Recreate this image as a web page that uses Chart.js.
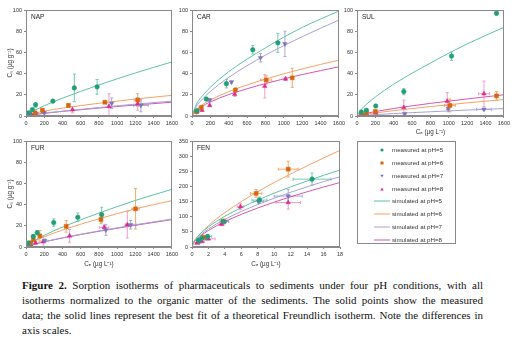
<!DOCTYPE html>
<html>
<head>
<meta charset="utf-8">
<script src="https://cdn.jsdelivr.net/npm/chart.js@4.4.0/dist/chart.umd.min.js"></script>
<style>
  body { margin: 0; background: #fff; width: 513px; height: 340px; position: relative; overflow: hidden; font-family: "Liberation Sans", Arial, sans-serif; }
  canvas { position: absolute; }
  #legend { position: absolute; left: 357px; top: 141px; width: 99px; height: 103px; border: 1px solid #888; box-sizing: border-box; font-size: 6.2px; color: #333; }
  #legend .row { position: absolute; left: 0; height: 8px; width: 98px; }
  #legend .mk { position: absolute; left: 16px; top: 0; width: 16px; height: 8px; }
  #legend .tx { position: absolute; left: 34px; top: 0; line-height: 8px; white-space: nowrap; }
  #caption { position: absolute; left: 22px; top: 278px; width: 461px; font-family: "Liberation Serif", "Times New Roman", serif; font-size: 11px; line-height: 15px; color: #111; }
  #caption .l { text-align: justify; text-align-last: justify; }
</style>
</head>
<body>
<canvas id="nap" width="180" height="138" style="left:0;top:0"></canvas>
<canvas id="car" width="172" height="138" style="left:175px;top:0"></canvas>
<canvas id="sul" width="172" height="138" style="left:340px;top:0"></canvas>
<canvas id="fur" width="180" height="139" style="left:0;top:131px"></canvas>
<canvas id="fen" width="172" height="139" style="left:175px;top:131px"></canvas>
<div id="legend"></div>
<div id="caption">
  <div class="l"><b>Figure 2.</b> Sorption isotherms of pharmaceuticals to sediments under four pH conditions, with all</div>
  <div class="l">isotherms normalized to the organic matter of the sediments. The solid points show the measured</div>
  <div class="l">data; the solid lines represent the best fit of a theoretical Freundlich isotherm. Note the differences in</div>
  <div>axis scales.</div>
</div>
<script>
//
// Data
//

var phLabels = ['pH=5', 'pH=6', 'pH=7', 'pH=8'];

// tick values
var concTicks = [0, 200, 400, 600, 800, 1000, 1200, 1400, 1600];
var sorbTicks = [0, 20, 40, 60, 80, 100];
var fenConcTicks = [0, 2, 4, 6, 8, 10, 12, 14, 16, 18];
var fenSorbTicks = [0, 50, 100, 150, 200, 250, 300, 350];

// measured rows: [Ce, Cs, error Cs, error Ce]
var napMeas5 = [[30, 3, 1, 0], [70, 6, 1, 0], [105, 10.5, 2, 0], [295, 14, 1, 0], [530, 26.5, 13, 0], [780, 27.5, 7, 0]];
var napMeas6 = [[100, 3, 1, 0], [180, 5.5, 1, 0], [465, 10, 1.5, 0], [865, 13, 1.5, 0], [1225, 15, 6, 40]];
var napMeas7 = [[40, 1, 0.5, 0], [110, 2, 0.5, 0], [200, 3, 1, 0], [940, 12, 5, 0], [1260, 10, 6, 80]];
var napMeas8 = [[0, 0, 0, 0], [60, 1.3, 0.5, 0], [100, 2, 0.5, 0], [190, 4, 1, 0], [510, 6, 3, 0], [910, 9, 12, 0], [1225, 11.5, 6, 0]];
var napSimX = [0, 50, 100, 200, 400, 800, 1200, 1600];
var napSim5 = [0, 3.2, 5.5, 9.7, 16.8, 29.3, 40.6, 51];
var napSim6 = [0, 1.7, 2.8, 4.6, 7.4, 12, 16, 19.5];
var napSim7 = [0, 0.9, 1.5, 2.7, 4.6, 8, 11.2, 14];
var napSim8 = [0, 0.8, 1.4, 2.5, 4.3, 7.5, 10.4, 13];

var carMeas5 = [[55, 5, 1, 0], [156, 16, 1.5, 0], [375, 30.5, 4, 0], [662, 62.5, 4, 0], [935, 69, 9, 0]];
var carMeas6 = [[50, 4, 1, 0], [102, 8, 1.5, 0], [473, 24.5, 2, 0], [808, 34, 4, 60], [1092, 36, 9, 0]];
var carMeas7 = [[50, 4, 1, 0], [193, 15, 1.5, 0], [430, 32, 1, 0], [746, 55, 4, 0], [1012, 68, 12, 0]];
var carMeas8 = [[0, 0, 0, 0], [55, 4, 1, 0], [109, 5.5, 1, 0], [193, 10, 1, 0], [466, 20.5, 2, 0], [793, 28, 11, 0], [1019, 35, 1.5, 0]];
var carSimX = [0, 50, 100, 200, 400, 800, 1200, 1600];
var carSim5 = [0, 11.4, 17.6, 27.1, 41.8, 64.3, 83.5, 99];
var carSim6 = [0, 6.6, 10, 15.1, 23, 34.8, 44.4, 52.7];
var carSim7 = [0, 9.3, 14.7, 23.1, 36.4, 57.4, 74.8, 90.5];
var carSim8 = [0, 5.8, 8.8, 13.3, 20.2, 30.6, 39.1, 46.4];

var sulMeas5 = [[47, 3.8, 1, 0], [102, 5.4, 1, 0], [204, 9.5, 1, 0], [510, 23, 3, 0], [1030, 56.5, 4, 0], [1520, 97, 2, 0]];
var sulMeas6 = [[50, 1.5, 0.5, 0], [102, 3, 1, 0], [200, 4.4, 1, 0], [1012, 10, 6, 60], [1520, 19, 4, 0]];
var sulMeas7 = [[50, 0.5, 0, 0], [100, 1, 0.5, 0], [520, 2, 1, 0], [994, 7, 3, 0], [1383, 6.3, 1, 80]];
var sulMeas8 = [[0, 0, 0, 0], [102, 2, 0.5, 0], [204, 3, 1, 0], [510, 8, 7, 0], [983, 14, 8, 0], [1383, 21, 12, 60]];
var sulSimX = [0, 50, 100, 200, 400, 800, 1200, 1600];
var sulSim5 = [0, 6.6, 10.8, 18, 30, 50, 68, 83.6];
var sulSim6 = [0, 1, 1.7, 2.9, 5.1, 8.9, 12.4, 15.5];
var sulSim7 = [0, 0.44, 0.76, 1.3, 2.3, 4, 5.6, 7];
var sulSim8 = [0, 1.5, 2.5, 4.2, 7.1, 11.9, 16.1, 20];

var furMeas5 = [[25, 3.7, 1, 0], [80, 10, 1.5, 0], [123, 13.5, 2, 0], [304, 23, 3.5, 0], [568, 28, 4, 0], [830, 30.5, 7, 0]];
var furMeas6 = [[50, 4, 1, 0], [80, 7, 1, 0], [152, 10.5, 5, 0], [441, 19.5, 5.5, 0], [822, 26, 4, 0], [1202, 36, 19, 40]];
var furMeas7 = [[60, 1.5, 0.5, 0], [206, 6, 1.5, 0], [876, 16, 5, 0], [1148, 21, 4, 60]];
var furMeas8 = [[0, 0, 0, 0], [43, 2, 0.5, 0], [105, 3.8, 1, 0], [188, 5, 5, 0], [478, 10.5, 6, 0], [858, 18.5, 3, 50], [1111, 21, 12.5, 0]];
var furSimX = [0, 50, 100, 200, 400, 800, 1200, 1600];
var furSim5 = [0, 3.8, 6.5, 11, 18.8, 32, 43.9, 54.4];
var furSim6 = [0, 3.2, 5.8, 9.6, 16, 26.6, 36, 43.75];
var furSim7 = [0, 1.6, 2.9, 5, 8.7, 15.2, 21, 26.4];
var furSim8 = [0, 1.6, 2.8, 4.9, 8.5, 14.8, 20.5, 25.8];

var fenMeas5 = [[0.8, 22, 3, 0.2], [1.2, 29, 3, 0.2], [1.9, 35, 3, 0.5], [3.8, 84, 3, 0.4], [8.2, 155, 10, 0.9], [14.6, 224, 20, 2.3]];
var fenMeas6 = [[1.4, 32, 3, 0.3], [3.8, 86, 3, 0.3], [7.8, 177, 13, 0.7], [11.7, 257, 26, 1.2]];
var fenMeas7 = [[0.9, 16, 2, 0.2], [1.7, 29.5, 3, 0.3], [4.05, 84, 3, 0.4], [8.1, 150, 5, 0.6], [11.7, 168, 22, 1.7]];
var fenMeas8 = [[0.6, 13, 2, 0.2], [1.2, 18.6, 3, 0.3], [2.0, 27, 4, 0.8], [3.6, 75, 4, 0.3], [5.9, 133, 10, 0.4], [11.7, 147, 22, 1.5]];
var fenSimX = [0, 0.2, 0.5, 1, 2, 4, 8, 12, 16, 18];
var fenSim5 = [0, 16.3, 28.5, 43.6, 66.5, 101.5, 155, 198.5, 236.6, 254];
var fenSim6 = [0, 14.6, 27.4, 44, 70.7, 113.7, 182.8, 241, 294, 319];
var fenSim7 = [0, 14.3, 25.1, 38.7, 59.5, 91.4, 140.4, 180.7, 216, 232];
var fenSim8 = [0, 13.1, 23.1, 35.5, 54.6, 83.9, 128.9, 165.8, 198, 213];


//
// Styles
//

var pointColors = ['#1f9e78', '#d9650c', '#7b76b8', '#e02a8c'];
var errColors = ['#7cc8ad', '#f2a86e', '#aaa8d8', '#f29ccb'];
var lineColors = ['#5dc3a3', '#f4a266', '#a4a2dc', '#d955ad'];
var pointStyles = ['circle', 'rect', 'triangle', 'triangle'];
var pointRotations = [0, 0, 180, 0];
var pointRadii = [2.3, 2.8, 2.6, 2.6];
var tickFont = { family: '"Liberation Sans", Arial, sans-serif', size: 5.5 };
var titleFont = { family: '"Liberation Sans", Arial, sans-serif', size: 6.3 };


//
// Plugins
//

// Error bars drawn from the rows of each measured dataset
var errorBars = {
	id: 'errorBars',
	beforeDatasetsDraw: function(chart) {
		var ctx = chart.ctx, xs = chart.scales.x, ys = chart.scales.y, a = chart.chartArea;
		ctx.save();
		ctx.beginPath();
		ctx.rect(a.left, a.top, a.right - a.left, a.bottom - a.top);
		ctx.clip();
		ctx.lineWidth = 1;
		chart.data.datasets.forEach(function(ds) {
			if (!ds.rows) return;
			ctx.strokeStyle = ds.errColor;
			ds.rows.forEach(function(r) {
				var px = xs.getPixelForValue(r[0]), py = ys.getPixelForValue(r[1]);
				ctx.beginPath();
				if (r[2]) {
					var t = ys.getPixelForValue(r[1] + r[2]), b = ys.getPixelForValue(r[1] - r[2]);
					ctx.moveTo(px, t); ctx.lineTo(px, b);
					ctx.moveTo(px - 1.5, t); ctx.lineTo(px + 1.5, t);
					ctx.moveTo(px - 1.5, b); ctx.lineTo(px + 1.5, b);
				}
				if (r[3]) {
					var l = xs.getPixelForValue(r[0] - r[3]), rr = xs.getPixelForValue(r[0] + r[3]);
					ctx.moveTo(l, py); ctx.lineTo(rr, py);
					ctx.moveTo(l, py - 1.5); ctx.lineTo(l, py + 1.5);
					ctx.moveTo(rr, py - 1.5); ctx.lineTo(rr, py + 1.5);
				}
				ctx.stroke();
			});
		});
		ctx.restore();
	}
};

// Box round the plot area
var frame = {
	id: 'frame',
	afterDraw: function(chart) {
		var a = chart.chartArea, ctx = chart.ctx;
		ctx.save();
		ctx.strokeStyle = '#8a8a8a';
		ctx.lineWidth = 1;
		ctx.strokeRect(Math.round(a.left) + 0.5, Math.round(a.top) + 0.5, Math.round(a.right - a.left) - 1, Math.round(a.bottom - a.top) - 1);
		ctx.restore();
	}
};


//
// Methods
//

function scaleOptions(ticks, size, isX, title) {
	return {
		type: 'linear',
		min: ticks[0],
		max: ticks[ticks.length - 1],
		afterBuildTicks: function(scale) {
			scale.ticks = ticks.map(function(v) { return { value: v }; });
		},
		afterFit: function(scale) {
			if (isX) scale.height = size; else scale.width = size;
		},
		ticks: {
			font: tickFont, color: '#333', padding: 2, maxRotation: 0, autoSkip: false,
			callback: function(v) { return String(v); }
		},
		grid: { display: true, drawOnChartArea: false, drawTicks: true, tickLength: 2, color: '#8a8a8a' },
		border: { color: '#8a8a8a' },
		title: {
			display: !!title,
			text: title || '',
			font: titleFont,
			color: '#333',
			padding: isX ? { top: 0, bottom: 2.4 } : { top: 6, bottom: 0 }
		}
	};
}

function initPanel(id, name, meas, simX, sims, xTicks, yTicks, yWidth, xHeight, xTitle, yTitle) {
	var datasets = [];
	meas.forEach(function(rows, i) {
		datasets.push({
			label: 'measured at ' + phLabels[i],
			data: rows.map(function(r) { return { x: r[0], y: r[1] }; }),
			rows: rows,
			errColor: errColors[i],
			pointStyle: pointStyles[i],
			rotation: pointRotations[i],
			pointRadius: pointRadii[i],
			backgroundColor: pointColors[i],
			borderColor: pointColors[i],
			borderWidth: 0.5,
			order: 1
		});
	});
	sims.forEach(function(ys, i) {
		datasets.push({
			label: 'simulated at ' + phLabels[i],
			data: simX.map(function(x, k) { return { x: x, y: ys[k] }; }),
			showLine: true,
			pointRadius: 0,
			borderColor: lineColors[i],
			borderWidth: 1,
			cubicInterpolationMode: 'monotone',
			order: 2
		});
	});

	var chart = new Chart(document.getElementById(id), {
		type: 'scatter',
		data: { datasets: datasets },
		options: {
			responsive: false,
			animation: false,
			layout: { padding: { top: 10, right: 7, left: 0, bottom: 0 } },
			plugins: {
				legend: { display: false },
				tooltip: { enabled: false },
				title: { display: false }
			},
			scales: {
				x: scaleOptions(xTicks, xHeight, true, xTitle),
				y: scaleOptions(yTicks, yWidth, false, yTitle)
			}
		},
		plugins: [errorBars, frame, {
			id: 'panelName',
			afterDraw: function(c) {
				var ctx = c.ctx;
				ctx.save();
				ctx.font = '6.5px "Liberation Sans", Arial, sans-serif';
				ctx.fillStyle = '#222';
				ctx.textBaseline = 'top';
				ctx.fillText(name, c.chartArea.left + 5, c.chartArea.top + 4);
				ctx.restore();
			}
		}]
	});
	return chart;
}

var ceTitle = 'C\u2091 (\u00b5g L\u207b\u00b9)';
var csTitle = 'C\u209b (\u00b5g g\u207b\u00b9)';

initPanel('nap', 'NAP', [napMeas5, napMeas6, napMeas7, napMeas8], napSimX, [napSim5, napSim6, napSim7, napSim8], concTicks, sorbTicks, 26, 22, null, csTitle);
initPanel('car', 'CAR', [carMeas5, carMeas6, carMeas7, carMeas8], carSimX, [carSim5, carSim6, carSim7, carSim8], concTicks, sorbTicks, 17, 22, null, null);
initPanel('sul', 'SUL', [sulMeas5, sulMeas6, sulMeas7, sulMeas8], sulSimX, [sulSim5, sulSim6, sulSim7, sulSim8], concTicks, sorbTicks, 17, 22, ceTitle, null);
initPanel('fur', 'FUR', [furMeas5, furMeas6, furMeas7, furMeas8], furSimX, [furSim5, furSim6, furSim7, furSim8], concTicks, sorbTicks, 26, 23, ceTitle, csTitle);
initPanel('fen', 'FEN', [fenMeas5, fenMeas6, fenMeas7, fenMeas8], fenSimX, [fenSim5, fenSim6, fenSim7, fenSim8], fenConcTicks, fenSorbTicks, 17, 23, ceTitle, null);

// Legend box
(function() {
	var box = document.getElementById('legend');
	var rowTops = [4, 16.5, 29.5, 42.5, 55, 67.5, 80.5, 93.5];
	var shapes = [
		'<circle cx="8" cy="4" r="1.6" fill="' + pointColors[0] + '"/>',
		'<rect x="6.5" y="2.5" width="3" height="3" fill="' + pointColors[1] + '"/>',
		'<polygon points="6.3,2.8 9.7,2.8 8,5.6" fill="' + pointColors[2] + '"/>',
		'<polygon points="6.3,5.4 9.7,5.4 8,2.6" fill="' + pointColors[3] + '"/>'
	];
	var html = '';
	for (var i = 0; i < 8; i++) {
		var mk = i < 4 ? shapes[i] : '<line x1="0" y1="4" x2="16" y2="4" stroke="' + lineColors[i - 4] + '" stroke-width="1"/>';
		var text = (i < 4 ? 'measured at ' : 'simulated at ') + phLabels[i % 4];
		html += '<div class="row" style="top:' + rowTops[i] + 'px"><svg class="mk" viewBox="0 0 16 8">' + mk + '</svg><span class="tx">' + text + '</span></div>';
	}
	box.innerHTML = html;
})();
</script>
</body>
</html>
